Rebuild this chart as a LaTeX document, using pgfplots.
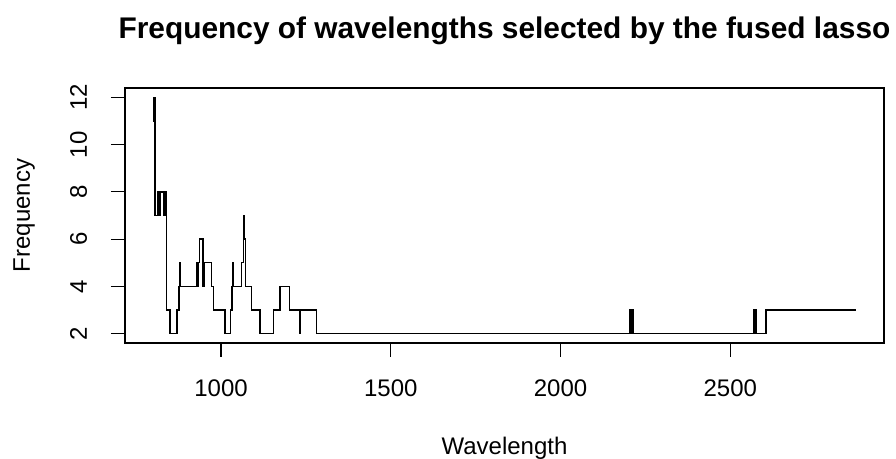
\documentclass[border=0pt]{standalone}
\usepackage{pgfplots}
\pgfplotsset{compat=1.18}
\usepackage{fontspec}
\setmainfont{Liberation Sans}
\begin{document}
\begin{tikzpicture}
\path[use as bounding box] (-93.75pt,-87pt) rectangle (578.25pt,257.25pt);
\begin{axis}[
  at={(0pt,0pt)}, anchor=south west,
  scale only axis, width=569.25pt, height=191.25pt,
  xmin=717.2, xmax=2952.8, ymin=1.6, ymax=12.4,
  xtick={1000,1500,2000,2500}, ytick={2,4,6,8,10,12},
  tick align=outside, major tick length=10.5pt,
  xtick pos=bottom, ytick pos=left,
  tick style={black, line width=0.9pt},
  axis line style={black, line width=0.9pt},
  scaled ticks=false,
  /pgf/number format/assume math mode=true,
  /pgf/number format/1000 sep={},
  ticklabel style={font=\fontsize{18}{21}\selectfont},
  xticklabel style={anchor=base, yshift=-30pt},
  yticklabel style={rotate=90, anchor=base, yshift=18pt},
  title={Frequency of wavelengths selected by the fused lasso},
  title style={at={(axis description cs:0.5,1)}, anchor=base, yshift=31pt,
    font=\bfseries\fontsize{22.4}{27}\selectfont},
  xlabel={Wavelength},
  xlabel style={at={(axis description cs:0.5,0)}, anchor=base, yshift=-84pt,
    font=\fontsize{18}{21}\selectfont},
  ylabel={Frequency},
  ylabel style={at={(axis description cs:0,0.5)}, anchor=base, yshift=71.25pt,
    font=\fontsize{18}{21}\selectfont},
]
\addplot[const plot, black, line width=1pt] coordinates {
(800,11) (801,12) (803,11) (804,12) (806,7)
(814,8) (816,7) (818,8) (820,7) (822,8)
(830,7) (832,8) (834,7) (836,8) (838,7) (839,8)
(840,3) (850,2) (870,3) (876,4) (878,5) (881,4)
(929,5) (931,4) (933,5) (937,6) (947,4) (950,5)
(972,4) (977,3) (1012,2) (1027,3) (1032,4) (1034,5) (1036,4)
(1061,5) (1066,6) (1068,7) (1070,6) (1072,4)
(1089,3) (1115,2) (1154,3) (1174,4) (1201,3) (1232,2) (1234,3)
(1281,2)
(2205,3) (2207,2) (2209,3) (2213,2)
(2569,3) (2572,2) (2574,3) (2578,2)
(2605,3) (2870,3)
};
\end{axis}
\end{tikzpicture}
\end{document}
